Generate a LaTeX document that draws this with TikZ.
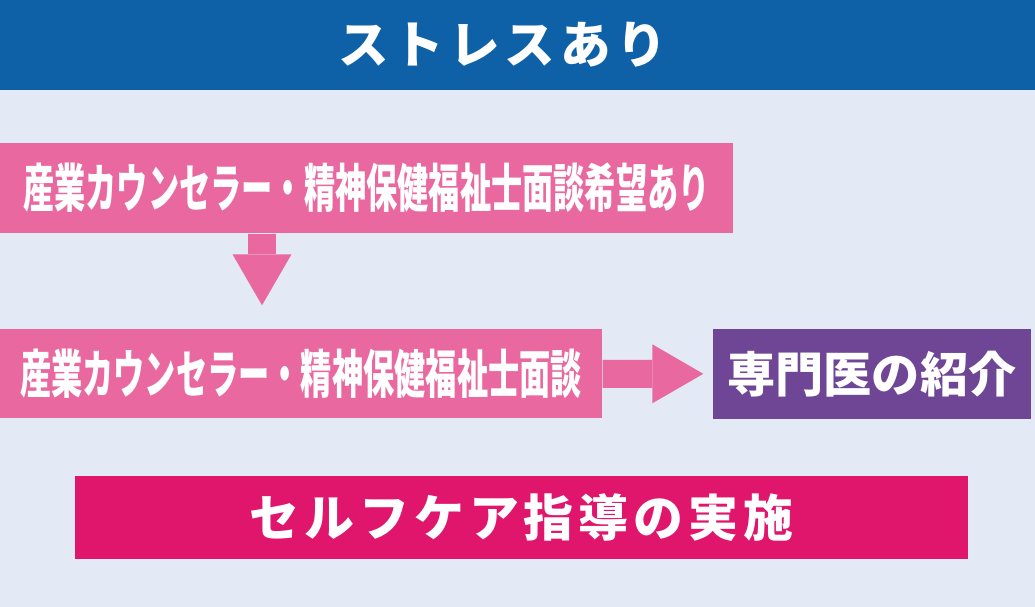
\documentclass[tikz,border=0pt]{standalone}
\usepackage{fontspec}
\usetikzlibrary{arrows.meta}
\newfontfamily\jpfont{Noto Sans CJK JP}
\newfontfamily\jpwide{Noto Sans CJK JP}[LetterSpace=10]
\newfontfamily\jpnarrow{Noto Sans CJK JP}[FakeStretch=0.6]
\definecolor{bannerblue}{HTML}{0F61A7}
\definecolor{paleback}{HTML}{E3E9F5}
\definecolor{boxpink}{HTML}{E9689F}
\definecolor{boxpurple}{HTML}{6E4695}
\definecolor{boxmagenta}{HTML}{E0156C}
\tikzset{
  box/.style={inner sep=0pt, text=white},
  flow/.style={line width=0.28cm, boxpink, -{Triangle[length=0.51cm,width=0.59cm,line width=0pt]}}
}

\begin{document}
\begin{tikzpicture}
      \useasboundingbox (0,0) rectangle (10.35,-6.07);
      \fill[paleback] (0,0) rectangle (10.35,-6.07);
      \draw
        (5.175,-0.45) node[box,fill=bannerblue,minimum width=10.35cm,minimum height=0.90cm,font=\jpwide\bfseries\fontsize{14.4}{17}\selectfont] (stress){ストレスあり\hspace*{0.30cm}}
        (3.665,-1.88) node[box,fill=boxpink,minimum width=7.33cm,minimum height=0.90cm,font=\jpnarrow\bfseries\fontsize{14.8}{17}\selectfont] (wish){産業カウンセラー・精神保健福祉士面談希望あり}
        (3.01,-3.735) node[box,fill=boxpink,minimum width=6.02cm,minimum height=0.89cm,font=\jpnarrow\bfseries\fontsize{14.8}{17}\selectfont] (talk){産業カウンセラー・精神保健福祉士面談}
        (8.72,-3.74) node[box,fill=boxpurple,minimum width=3.18cm,minimum height=0.90cm,font=\jpfont\bfseries\fontsize{13.7}{16}\selectfont] (refer){専門医の紹介}
        (5.215,-5.175) node[box,fill=boxmagenta,minimum width=8.93cm,minimum height=0.83cm,font=\jpwide\bfseries\fontsize{14.2}{17}\selectfont] (selfcare){セルフケア指導の実施};
      \begin{scope}[flow]
        \draw[shorten >=0.23cm] (wish.south -| 2.62,0) to (talk.north -| 2.62,0);
        \draw[shorten >=0.09cm] (talk) to (refer);
      \end{scope}

    \end{tikzpicture}
\end{document}
